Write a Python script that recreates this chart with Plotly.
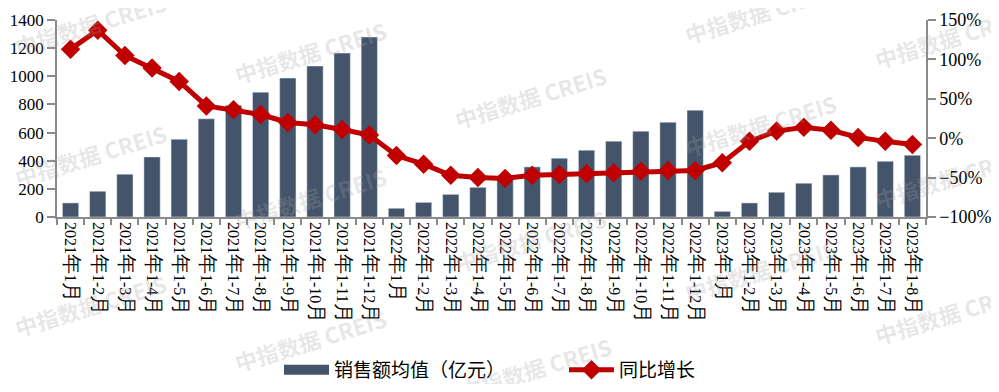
import plotly.graph_objects as go

categories = [
    "2021年1月", "2021年1-2月", "2021年1-3月", "2021年1-4月", "2021年1-5月", "2021年1-6月",
    "2021年1-7月", "2021年1-8月", "2021年1-9月", "2021年1-10月", "2021年1-11月", "2021年1-12月",
    "2022年1月", "2022年1-2月", "2022年1-3月", "2022年1-4月", "2022年1-5月", "2022年1-6月",
    "2022年1-7月", "2022年1-8月", "2022年1-9月", "2022年1-10月", "2022年1-11月", "2022年1-12月",
    "2023年1月", "2023年1-2月", "2023年1-3月", "2023年1-4月", "2023年1-5月", "2023年1-6月",
    "2023年1-7月", "2023年1-8月",
]
sales_avg = [
    100, 183, 304, 427, 553, 698, 795, 887, 987, 1073, 1165, 1279,
    62, 104, 161, 211, 277, 356, 418, 475, 539, 610, 674, 759,
    40, 100, 176, 240, 299, 356, 396, 439,
]
yoy_growth = [
    113, 137, 105, 89, 72, 41, 36, 30, 20, 17, 11, 4,
    -22, -33, -47, -50, -51, -47, -46, -45, -44, -42, -41, -41,
    -31, -4, 9, 14, 10, 1, -4, -8,
]
bar_name = "销售额均值（亿元）"
line_name = "同比增长"
watermark_text = "中指数据 CREIS"

BAR_COLOR = "#44546A"
LINE_COLOR = "#C00000"
AXIS_COLOR = "#8a8a8a"
SERIF = "Liberation Serif"

# page body has an 8px margin; work in page coordinates and convert
OFF = 8
FIG_W, FIG_H = 999 - 2 * OFF, 392 - 2 * OFF
PLOT_L, PLOT_R, PLOT_T, PLOT_B = 57 - OFF, 926 - OFF, 20 - OFF, 217 - OFF
pw, ph = PLOT_R - PLOT_L, PLOT_B - PLOT_T


def px_to_paper(px, py):
    return (px - OFF - PLOT_L) / pw, (PLOT_B - (py - OFF)) / ph


def fmt_tick(label):
    big = '<span style="font-size:20px">{}</span>'
    return label.replace("年", big.format("年")).replace("月", big.format("月"))


fig = go.Figure()
fig.add_trace(go.Bar(
    x=categories, y=sales_avg, name=bar_name, marker_color=BAR_COLOR,
    showlegend=False, yaxis="y",
))
# legend entry for bars (wide swatch like the reference)
fig.add_trace(go.Scatter(
    x=[None], y=[None], mode="lines", name=bar_name,
    line=dict(color=BAR_COLOR, width=10), yaxis="y",
))
fig.add_trace(go.Scatter(
    x=categories, y=yoy_growth, name=line_name, mode="lines+markers",
    line=dict(color=LINE_COLOR, width=5),
    marker=dict(symbol="diamond", size=15, color=LINE_COLOR),
    yaxis="y2",
))

# watermarks (page pixel positions)
wm_positions = [
    (90, 24), (90, 155), (90, 305),
    (310, 52), (310, 198), (310, 340),
    (530, 97), (530, 240), (535, 368),
    (760, 12), (760, 125), (760, 270),
    (950, 37), (950, 177), (950, 313),
]
annotations = []
for (px, py) in wm_positions:
    ax, ay = px_to_paper(px, py)
    annotations.append(dict(
        text=watermark_text, xref="paper", yref="paper", x=ax, y=ay,
        showarrow=False, textangle=-17,
        font=dict(family="Noto Sans CJK SC, Noto Sans, sans-serif", size=22,
                  color="rgba(160,160,160,0.26)", weight="bold"),
        xanchor="center", yanchor="middle",
    ))

leg_x, leg_y = px_to_paper(564, 370)

fig.update_layout(
    width=FIG_W, height=FIG_H,
    margin=dict(l=PLOT_L, r=FIG_W - PLOT_R, t=PLOT_T, b=FIG_H - PLOT_B, autoexpand=False),
    paper_bgcolor="white", plot_bgcolor="white",
    bargap=0.4,
    font=dict(family=SERIF, size=16, color="black"),
    xaxis=dict(
        type="category", automargin=False,
        tickvals=categories, ticktext=[fmt_tick(c) for c in categories],
        tickangle=90, tickson="boundaries",
        ticks="outside", ticklen=6, tickcolor=AXIS_COLOR, tickwidth=1.5,
        showline=True, linecolor=AXIS_COLOR, linewidth=1.5,
        showgrid=False, tickfont=dict(family=SERIF, size=16),
        range=[-0.5, len(categories) - 0.5],
    ),
    yaxis=dict(
        range=[0, 1400], dtick=200, showgrid=False, zeroline=False, automargin=False,
        ticks="outside", ticklen=8, tickcolor=AXIS_COLOR, tickwidth=1.5,
        showline=True, linecolor=AXIS_COLOR, linewidth=1.5,
        tickfont=dict(family=SERIF, size=17),
    ),
    yaxis2=dict(
        range=[-100, 150], dtick=50, ticksuffix="%", overlaying="y", side="right",
        showgrid=False, zeroline=False, automargin=False,
        ticks="outside", ticklen=8, tickcolor=AXIS_COLOR, tickwidth=1.5,
        showline=True, linecolor=AXIS_COLOR, linewidth=1.5,
        tickfont=dict(family=SERIF, size=18),
    ),
    legend=dict(
        orientation="h", x=leg_x, xanchor="center", y=leg_y, yanchor="middle",
        font=dict(family="Noto Sans CJK SC, sans-serif", size=19),
        itemwidth=45, entrywidth=225, entrywidthmode="pixels",
        bgcolor="rgba(0,0,0,0)",
    ),
    annotations=annotations,
)

fig.write_html("out.html")
